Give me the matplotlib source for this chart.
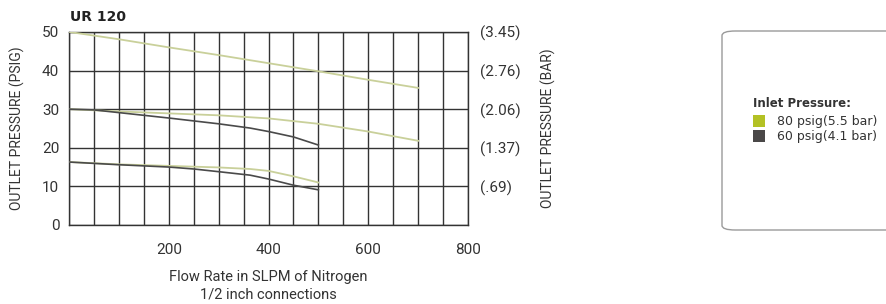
import matplotlib

matplotlib.use('Agg')

import matplotlib.pyplot as plt
from matplotlib.patches import FancyBboxPatch, Rectangle

# 80 psig inlet (green) curves
g_hi_x = [0, 100, 200, 300, 400, 500, 600, 700]
g_hi_y = [50, 48.1, 46.0, 44.0, 41.9, 39.8, 37.6, 35.5]
g_mid_x = [0, 100, 200, 300, 400, 500, 600, 700]
g_mid_y = [30, 29.4, 28.9, 28.4, 27.6, 26.2, 24.2, 21.8]
g_lo_x = [0, 100, 200, 300, 363, 400, 450, 500]
g_lo_y = [16.3, 15.7, 15.3, 14.9, 14.5, 14.0, 12.6, 11.0]

# 60 psig inlet (dark) curves
d_mid_x = [0, 50, 100, 200, 300, 363, 400, 450, 500]
d_mid_y = [30, 29.8, 29.1, 27.7, 26.2, 25.1, 24.2, 22.8, 20.7]
d_lo_x = [0, 100, 200, 250, 300, 363, 400, 450, 500]
d_lo_y = [16.3, 15.6, 15.0, 14.5, 13.8, 12.9, 11.9, 10.3, 9.1]

x_ticks = [200, 400, 600, 800]
y_ticks = [0, 10, 20, 30, 40, 50]
bar_ticks = [10, 20, 30, 40, 50]
bar_labels = ['(.69)', '(1.37)', '(2.06)', '(2.76)', '(3.45)']
legend_labels = ['80 psig(5.5 bar)', '60 psig(4.1 bar)']

GREEN_LINE = '#c9d09a'
DARK_LINE = '#4a4a4a'
GREEN_BOX = '#b3c124'
DARK_BOX = '#4a4848'

chart_font = ['Roboto', 'DejaVu Sans']

fig = plt.figure(figsize=(8.86, 3.04), dpi=100)
ax = fig.add_axes([0.0779, 0.26, 0.4503, 0.635])

for xs, ys in [(g_hi_x, g_hi_y), (g_mid_x, g_mid_y), (g_lo_x, g_lo_y)]:
    ax.plot(xs, ys, color=GREEN_LINE, lw=1.3, zorder=3)
for xs, ys in [(d_mid_x, d_mid_y), (d_lo_x, d_lo_y)]:
    ax.plot(xs, ys, color=DARK_LINE, lw=1.2, zorder=3)

ax.set_xlim(0, 800)
ax.set_ylim(0, 50)
ax.set_xticks(range(0, 801, 50), minor=True)
ax.set_xticks(x_ticks)
ax.set_yticks(y_ticks)
ax.grid(True, which='both', axis='x', color='#333333', lw=1.0)
ax.grid(True, which='major', axis='y', color='#333333', lw=1.0)
for s in ax.spines.values():
    s.set_color('#333333')
    s.set_linewidth(1.0)
ax.tick_params(which='both', length=0, labelsize=11, colors='#333333', pad=7)
ax.tick_params(axis='x', pad=13)
for lab in ax.get_xticklabels() + ax.get_yticklabels():
    lab.set_family(chart_font)

ax.set_ylabel('OUTLET PRESSURE (PSIG)', family=chart_font, fontsize=10, color='#333333', labelpad=12)
ax.set_xlabel('Flow Rate in SLPM of Nitrogen\n1/2 inch connections', family=chart_font,
              fontsize=10.5, color='#333333', labelpad=9, linespacing=1.35)

ax2 = ax.twinx()
ax2.set_ylim(0, 50)
ax2.set_yticks(bar_ticks)
ax2.set_yticklabels(bar_labels)
ax2.tick_params(length=0, labelsize=11, colors='#333333', pad=9)
for lab in ax2.get_yticklabels():
    lab.set_family(chart_font)
ax2.set_ylabel('OUTLET PRESSURE (BAR)', family=chart_font, fontsize=10, color='#333333', labelpad=14)
for s in ax2.spines.values():
    s.set_visible(False)

fig.text(70 / 886, 1 - 17 / 304, 'UR 120', fontsize=10, fontweight='bold',
         color='#222222', va='center', ha='left')

# legend panel
box = FancyBboxPatch((722 / 886, 1 - 230 / 304), 200 / 886, 199 / 304,
                     boxstyle='round,pad=0,rounding_size=0.015', transform=fig.transFigure,
                     facecolor='white', edgecolor='#9a9a9a', lw=1.0, clip_on=False)
fig.patches.append(box)
fig.text(753 / 886, 1 - 103 / 304, 'Inlet Pressure:', fontsize=8.5, fontweight='bold',
         color='#333333', va='center', ha='left')
for i, (lab, col) in enumerate(zip(legend_labels, [GREEN_BOX, DARK_BOX])):
    yc = 121 + i * 15
    fig.patches.append(Rectangle((753 / 886, 1 - (yc + 6) / 304), 12 / 886, 12 / 304,
                                 transform=fig.transFigure, facecolor=col, edgecolor='none'))
    fig.text(777 / 886, 1 - yc / 304, lab, fontsize=9, color='#333333', va='center', ha='left')

fig.savefig('out.png', dpi=100)
